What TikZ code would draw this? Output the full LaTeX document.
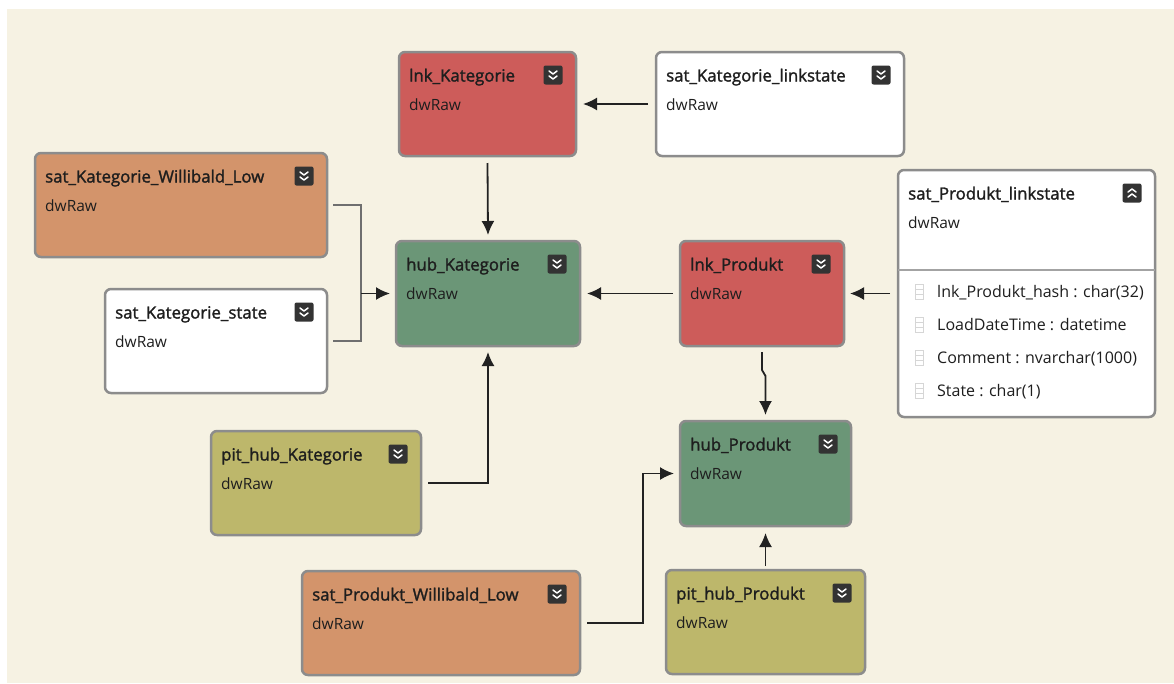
\documentclass[tikz,border=0pt]{standalone}
\usepackage{fontspec}
\setmainfont{Open Sans}[AutoFakeBold=1.6]
\usetikzlibrary{arrows.meta}

\definecolor{canvasbg}{HTML}{F6F2E3}
\definecolor{lnkred}{HTML}{CD5C5A}
\definecolor{hubgreen}{HTML}{6B9677}
\definecolor{satorange}{HTML}{D3946B}
\definecolor{pitolive}{HTML}{BDB76B}
\definecolor{boxline}{HTML}{8C8C8C}
\definecolor{iconbg}{HTML}{333333}
\definecolor{linkcol}{HTML}{222222}
\definecolor{joincol}{HTML}{6F6F6F}
\definecolor{fieldcol}{HTML}{D6D6D6}
\definecolor{textcol}{HTML}{1E1E1E}

% name, x, y, width, height, colour, title, icon
\newcommand{\entity}[8]{%
  \node[entitybox, fill=#6, minimum width=#4pt, minimum height=#5pt] (#1) at (#2,#3) {};
  \node[titletext] (#1-title) at ([xshift=10pt,yshift=-29.5pt]#1.north west) {#7};
  \node[subtext] (#1-sub) at ([xshift=10pt,yshift=-58pt]#1.north west) {dwRaw};
  \pic at ([xshift=-23pt,yshift=-23pt]#1.north east) {#8};
}

\begin{document}
\begin{tikzpicture}[x=1pt, y=-1pt,
    entitybox/.style={rectangle, draw=boxline, line width=2.5pt, rounded corners=6pt,
      anchor=north west, inner sep=0pt, outer sep=0pt},
    titletext/.style={anchor=base west, inner sep=0pt, text=textcol,
      font=\fontsize{16.8}{20}\selectfont\bfseries},
    subtext/.style={anchor=base west, inner sep=0pt, text=textcol,
      font=\fontsize{15.5}{18}\selectfont},
    fieldtext/.style={subtext, font=\fontsize{16}{18}\selectfont},
    link/.style={draw=linkcol, line width=1.8pt, -{Latex[length=14pt,width=13pt]}},
    joinline/.style={draw=joincol, line width=1.8pt},
    expandicon/.pic={
      \fill[iconbg, rounded corners=2pt] (-9.5,-9.5) rectangle (9.5,9.5);
      \draw[white, line width=1.5pt, line cap=round, line join=round]
        (-4,-4) -- (0,-1) -- (4,-4) (-4,1) -- (0,4) -- (4,1);
    },
    collapseicon/.pic={
      \fill[iconbg, rounded corners=2pt] (-9.5,-9.5) rectangle (9.5,9.5);
      \draw[white, line width=1.5pt, line cap=round, line join=round]
        (-4,4) -- (0,1) -- (4,4) (-4,-1) -- (0,-4) -- (4,-1);
    },
    fieldicon/.pic={
      \draw[fieldcol, line width=0.9pt] (-4,-7.5) rectangle (4,7.5)
        (-4,-2.5) -- (4,-2.5) (-4,2.5) -- (4,2.5);
    }]
	%%% Canvas
	\useasboundingbox (0,0) rectangle (1174,683);
	\fill[white] (0,0) rectangle (1174,683);
	\fill[canvasbg] (7,9) rectangle (1174,683);
	%%% Boxes
	\entity{lk}{399}{52}{177}{104}{lnkred}{lnk\_Kategorie}{expandicon}
	\entity{skl}{656}{52}{248}{104}{white}{sat\_Kategorie\_linkstate}{expandicon}
	\entity{skw}{35}{153}{292}{104}{satorange}{sat\_Kategorie\_Willibald\_Low}{expandicon}
	\entity{hk}{396}{241}{184}{105}{hubgreen}{hub\_Kategorie}{expandicon}
	\entity{sks}{105}{289}{222}{104}{white}{sat\_Kategorie\_state}{expandicon}
	\entity{lp}{680}{241}{164}{105}{lnkred}{lnk\_Produkt}{expandicon}
	\entity{spl}{898}{170}{257}{247}{white}{sat\_Produkt\_linkstate}{collapseicon}
	\entity{phk}{211}{431}{210}{104}{pitolive}{pit\_hub\_Kategorie}{expandicon}
	\entity{hp}{680}{421}{171}{105}{hubgreen}{hub\_Produkt}{expandicon}
	\entity{spw}{302}{571}{278}{104}{satorange}{sat\_Produkt\_Willibald\_Low}{expandicon}
	\entity{php}{666}{570}{199}{104}{pitolive}{pit\_hub\_Produkt}{expandicon}
	%%% Fields of sat_Produkt_linkstate
	\draw[boxline!80, line width=1.2pt] ([yshift=-100pt]spl.north west) -- ([yshift=-100pt]spl.north east);
	\foreach \fld [count=\i] in {lnk\_Produkt\_hash : char(32), LoadDateTime : datetime,
	    Comment : nvarchar(1000), State : char(1)} {
	  \pic at ([xshift=21pt,yshift={-122pt-33pt*(\i-1)}]spl.north west) {fieldicon};
	  \node[fieldtext] (spl-f\i) at ([xshift=39pt,yshift={-127pt-33pt*(\i-1)}]spl.north west) {\fld};
	}
	%%% Connectors
	\coordinate (kjoin) at ([xshift=-35pt]hk.west);
	\draw[link] ([xshift=-8pt]skl.west) -- ([xshift=7pt]lk.east);
	\draw[link] ([yshift=-7pt]lk.south) -- ([yshift=6pt]hk.north);
	\draw[joinline] ([xshift=6pt]skw.east) -| (kjoin);
	\draw[joinline] ([xshift=6pt]sks.east) -| (kjoin);
	\draw[link] (kjoin) -- ([xshift=-6pt]hk.west);
	\draw[link] ([xshift=7pt]phk.east) -| ([yshift=-6pt]hk.south);
	\draw[link] ([xshift=-7pt]lp.west) -- ([xshift=7pt]hk.east);
	\draw[link] ([xshift=-8pt]spl.west) -- ([xshift=6pt]lp.east);
	\draw[link] ([yshift=-6pt]lp.south) -- ++(0,18) -- ++(3.5,6) -- ([yshift=6pt]hp.north);
	\draw[link] ([xshift=7pt]spw.east) -- ++(56,0) |- ([xshift=-6pt]hp.west);
	\draw[link] ([yshift=4pt]php.north) -- ([yshift=-7pt]hp.south);
\end{tikzpicture}
\end{document}
